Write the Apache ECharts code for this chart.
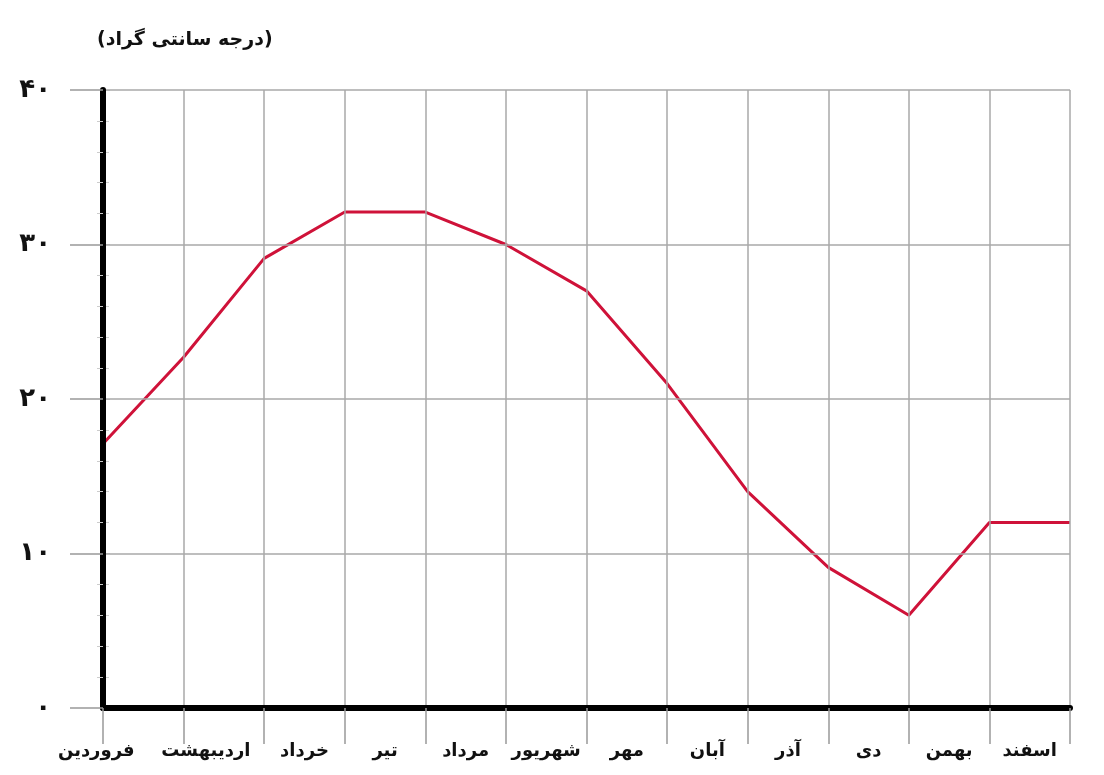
<!DOCTYPE html>
<html>
<head>
<meta charset="utf-8">
<style>
html,body{margin:0;padding:0;background:#fff;}
#c{width:1104px;height:775px;}
</style>
<script src="https://cdn.jsdelivr.net/npm/echarts@6/dist/echarts.min.js"></script>
</head>
<body>
<div id="c"></div>
<script>
var months = ['فروردین','اردیبهشت','خرداد','تیر','مرداد','شهریور','مهر','آبان','آذر','دی','بهمن','اسفند'];
// temperature at each month boundary (13 points)
var temps = [17.1, 22.7, 29.1, 32.1, 32.1, 30.0, 27.0, 21.0, 14.0, 9.1, 6.0, 12.0, 12.0];
var yTickLabels = {0:'۰', 10:'۱۰', 20:'۲۰', 30:'۳۰', 40:'۴۰'};
var unitTitle = '(درجه سانتی گراد)';

var lineData = temps.map(function(v, i){ return [i, v]; });
var labelShift = [94, 36, 0, 0, 0, 0, 0, 0, 0, 0, 0, 0];
var monthItems = months.map(function(m, i){
  return {value: m, textStyle: {padding: [0, labelShift[i], 0, 0]}};
});
var fontFam = '"DejaVu Sans", sans-serif';
var chart = echarts.init(document.getElementById('c'));
chart.setOption({
  animation: false,
  backgroundColor: '#fff',
  title: {
    text: unitTitle,
    left: 92, top: 26,
    textStyle: {fontFamily: fontFam, fontSize: 19, fontWeight: 'bold', color: '#111'}
  },
  grid: {left: 103, right: 34, top: 90, bottom: 67},
  xAxis: [{
    type: 'value', min: 0, max: 12, interval: 1,
    axisLabel: {show: false},
    axisLine: {show: true, onZero: false, lineStyle: {color: '#000', width: 6}},
    axisTick: {show: true, length: 36, lineStyle: {color: '#999', width: 1.5}},
    splitLine: {show: true, showMinLine: false, lineStyle: {color: '#a8a8a8', width: 1.5}},
    z: 10
  }, {
    type: 'category', data: monthItems, position: 'bottom', boundaryGap: true,
    axisLine: {show: false}, axisTick: {show: false}, splitLine: {show: false},
    axisLabel: {margin: 34, fontFamily: fontFam, fontSize: 18, fontWeight: 'bold', color: '#111', interval: 0}
  }],
  yAxis: [{
    type: 'value', min: 0, max: 40, interval: 10,
    axisLine: {show: true, onZero: false, lineStyle: {color: '#000', width: 6}},
    axisTick: {show: true, length: 33, lineStyle: {color: '#999', width: 1.5}},
    minorTick: {show: true, splitNumber: 5, length: 6, lineStyle: {color: '#ccc', width: 1}},
    splitLine: {show: true, showMinLine: false, lineStyle: {color: '#a8a8a8', width: 1.5}},
    axisLabel: {
      margin: 52, fontFamily: fontFam, fontSize: 26, fontWeight: 'bold', color: '#111',
      formatter: function(v){ return yTickLabels[v] !== undefined ? yTickLabels[v] : ''; }
    },
    z: 10
  }, {
    type: 'value', min: 0, max: 40, interval: 10, position: 'right',
    axisLine: {show: true, lineStyle: {color: '#aaa', width: 1.5}},
    axisTick: {show: true, length: 7, lineStyle: {color: '#ccc', width: 1}},
    minorTick: {show: true, splitNumber: 5, length: 6, lineStyle: {color: '#ccc', width: 1}},
    splitLine: {show: false},
    axisLabel: {show: false}
  }],
  series: [{
    type: 'line',
    xAxisIndex: 0, yAxisIndex: 0,
    data: lineData,
    symbol: 'none',
    lineStyle: {color: '#cf1239', width: 3},
    z: 5
  }]
});
</script>
</body>
</html>
